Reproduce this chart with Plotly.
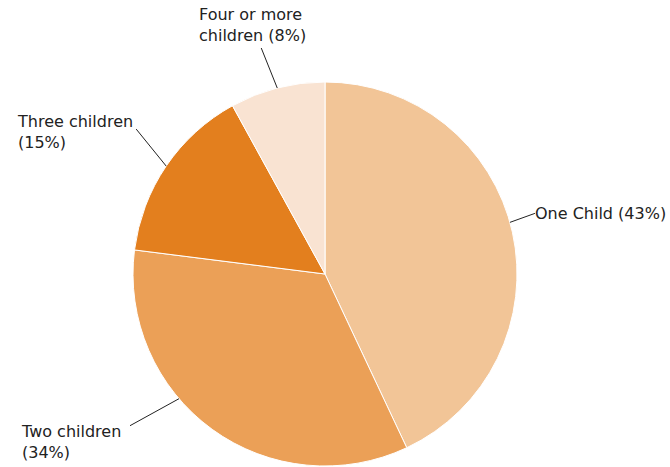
import math
import plotly.graph_objects as go

labels = ["One Child", "Two children", "Three children", "Four or more children"]
values = [43, 34, 15, 8]
label_text = ["One Child (43%)", "Two children<br>(34%)", "Three children<br>(15%)", "Four or more<br>children (8%)"]
colors = ["#F2C597", "#EBA057", "#E37F1E", "#F9E3D2"]

W, H = 670, 467
CX, CY, R = 325, 274, 192

# leader-line placement (styling): angular tweak (deg), end offset (px), text offset (px), anchor
leader_tweak = [-3, 13.5, 0, 0]
leader_end = [(25, -9), (-49, 27), (-30, -37), (-16, -40)]
text_pos = [(-2, 0, "left", "middle"), (-111, -6, "left", "top"), (-121, 3, "left", "middle"), (-9, -1, "center", "bottom")]

fig = go.Figure(go.Pie(
    labels=labels, values=values, sort=False, direction="clockwise", rotation=0,
    marker=dict(colors=colors, line=dict(color="white", width=1)),
    textinfo="none", hoverinfo="label+percent",
    domain=dict(x=[(CX - R) / W, (CX + R) / W], y=[1 - (CY + R) / H, 1 - (CY - R) / H]),
    showlegend=False,
))

def px2paper(x, y):
    return x / W, 1 - y / H

total = sum(values)
cum = 0
shapes, annots = [], []
for i, v in enumerate(values):
    mid = (cum + v / 2) / total * 360 + leader_tweak[i]
    cum += v
    a = math.radians(mid)
    sx, sy = CX + R * math.sin(a), CY - R * math.cos(a)
    ex, ey = sx + leader_end[i][0], sy + leader_end[i][1]
    x0, y0 = px2paper(sx, sy)
    x1, y1 = px2paper(ex, ey)
    shapes.append(dict(type="line", xref="paper", yref="paper", x0=x0, y0=y0, x1=x1, y1=y1,
                       line=dict(color="#222222", width=1)))
    tx, ty = px2paper(ex + text_pos[i][0], ey + text_pos[i][1])
    annots.append(dict(x=tx, y=ty, xref="paper", yref="paper", text=label_text[i], showarrow=False,
                       xanchor=text_pos[i][2], yanchor=text_pos[i][3], align="left",
                       font=dict(family="DejaVu Sans, Arial, sans-serif", size=16, color="#222222")))

fig.update_layout(
    width=W, height=H, margin=dict(l=0, r=0, t=0, b=0),
    paper_bgcolor="white", plot_bgcolor="white",
    shapes=shapes, annotations=annots,
)
fig.write_html("out.html", config={"displayModeBar": False},
               post_script="document.body.style.margin='0';document.body.style.padding='0';")
